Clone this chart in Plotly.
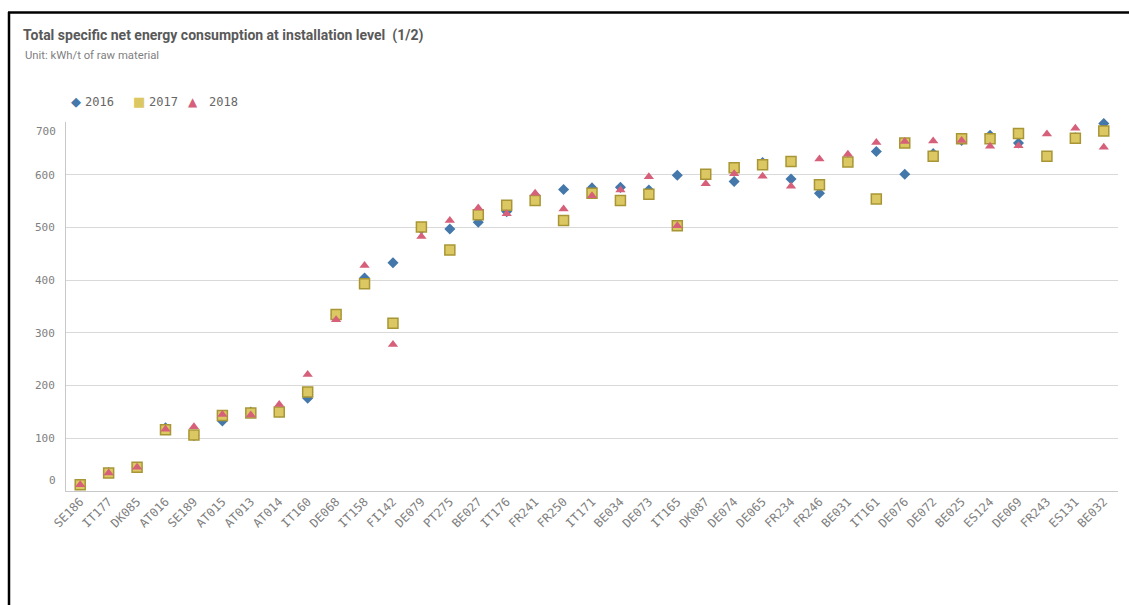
import plotly.graph_objects as go

categories = ["SE186", "IT177", "DK085", "AT016", "SE189", "AT015", "AT013", "AT014", "IT160",
              "DE068", "IT158", "FI142", "DE079", "PT275", "BE027", "IT176", "FR241", "FR250",
              "IT171", "BE034", "DE073", "IT165", "DK087", "DE074", "DE065", "FR234", "FR246",
              "BE031", "IT161", "DE076", "DE072", "BE025", "ES124", "DE069", "FR243", "ES131", "BE032"]

v2016 = [12, 35, 45, 120, 105, 133, 150, 150, 176, 335, 404, 433, 497, 497, 510, 530, 560, 572,
         575, 576, 571, 599, 600, 587, 623, 592, 565, 625, 644, 601, 640, 665, 675, 660, None, 670, 697]
v2017 = [12, 34, 45, 116, 106, 143, 148, 150, 188, 335, 393, 318, 501, 457, 524, 542, 551, 513,
         565, 551, 563, 503, 601, 613, 619, 625, 581, 624, 554, 660, 635, 668, 668, 678, 635, 669, 683]
v2018 = [12, 34, 45, 117, 122, 145, 144, 164, 221, 325, 428, 278, 483, 513, 537, 526, 565, 535,
         560, 571, 596, 503, 583, 602, 597, 578, 630, 639, 661, 663, 664, 665, 654, 655, 677, 688, 652]

y_ticks = [0, 100, 200, 300, 400, 500, 600, 700]

C16, C17, C17B, C18 = "#4477aa", "#dcc862", "#a89636", "#d6607a"
MONO = "DejaVu Sans Mono, Liberation Mono, monospace"
NARROW = "Liberation Sans Narrow, Roboto, Arial, sans-serif"

W, H = 1129, 605
ML, MR, MT, MB = 66, 11, 122, 114
PW, PH = W - ML - MR, H - MT - MB


def px(x):
    return (x - ML) / PW


def py(y):
    return (H - MB - y) / PH


fig = go.Figure()
fig.add_trace(go.Scatter(x=categories, y=v2016, mode="markers", name="2016", cliponaxis=False,
                         marker=dict(symbol="diamond", size=8.5, color=C16)))
fig.add_trace(go.Scatter(x=categories, y=v2017, mode="markers", name="2017", cliponaxis=False,
                         marker=dict(symbol="square", size=10, color=C17,
                                     line=dict(color=C17B, width=1.5))))
fig.add_trace(go.Scatter(x=categories, y=v2018, mode="markers", name="2018", cliponaxis=False,
                         marker=dict(symbol="triangle-up", size=9, color=C18)))

tick_text = ["" if v in (y_ticks[0], y_ticks[-1]) else str(v) for v in y_ticks]

fig.update_layout(
    width=W, height=H,
    margin=dict(l=ML, r=MR, t=MT, b=MB),
    paper_bgcolor="white", plot_bgcolor="white",
    showlegend=False,
    title=dict(text="<b>Total specific net energy consumption at installation level  (1/2)</b>",
               x=23 / W, xanchor="left", y=1 - 35 / H, yanchor="middle",
               font=dict(family=NARROW, size=14, color="#595959")),
    xaxis=dict(type="category", showgrid=False, showline=True, linecolor="#c8c8c8", linewidth=1,
               tickangle=-45, ticks="", ticklabelstandoff=-2,
               tickfont=dict(family=MONO, size=12, color="#808080"),
               range=[-0.5, len(categories) - 0.5]),
    yaxis=dict(range=[0, 700], tickvals=y_ticks, ticktext=tick_text, showgrid=True,
               gridcolor="#d9d9d9", gridwidth=1, showline=True, linecolor="#c8c8c8", linewidth=1,
               zeroline=False, ticks="", ticklabelstandoff=8,
               tickfont=dict(family=MONO, size=11, color="#808080")),
)

annotations = [
    dict(text="Unit: kWh/t of raw material", xref="paper", yref="paper", x=px(23), y=py(56),
         xanchor="left", yanchor="middle", showarrow=False,
         font=dict(family=NARROW, size=11.3, color="#7f7f7f")),
    dict(text=str(y_ticks[0]), xref="paper", yref="y", x=0, y=y_ticks[0], xanchor="right",
         yanchor="middle", xshift=-8, yshift=11, showarrow=False,
         font=dict(family=MONO, size=11, color="#808080")),
    dict(text=str(y_ticks[-1]), xref="paper", yref="y", x=0, y=y_ticks[-1], xanchor="right",
         yanchor="middle", xshift=-8, yshift=-9, showarrow=False,
         font=dict(family=MONO, size=11, color="#808080")),
]

legend_items = [("◆", C16, "2016", 76, 83, 13), ("■", C17, "2017", 139, 147, 13),
                ("▲", C18, "2018", 193, 207, 12)]
for sym, col, lab, sx, tx, fs in legend_items:
    annotations.append(dict(text=sym, xref="paper", yref="paper", x=px(sx), y=py(102),
                            xanchor="center", yanchor="middle", showarrow=False,
                            font=dict(family="DejaVu Sans", size=fs, color=col)))
    annotations.append(dict(text=lab, xref="paper", yref="paper", x=px(tx), y=py(102),
                            xanchor="left", yanchor="middle", showarrow=False,
                            font=dict(family=MONO, size=12, color="#666666")))
fig.update_layout(annotations=annotations)

fig.add_shape(type="line", xref="paper", yref="paper", x0=px(9), x1=px(9), y0=py(605), y1=py(12),
              line=dict(color="black", width=2.5))
fig.add_shape(type="line", xref="paper", yref="paper", x0=px(8), x1=px(1129), y0=py(12.5),
              y1=py(12.5), line=dict(color="black", width=2.5))

fig.write_html("out.html", config={"displayModeBar": False},
               post_script="document.body.style.margin='0';document.body.style.overflow='hidden';")
